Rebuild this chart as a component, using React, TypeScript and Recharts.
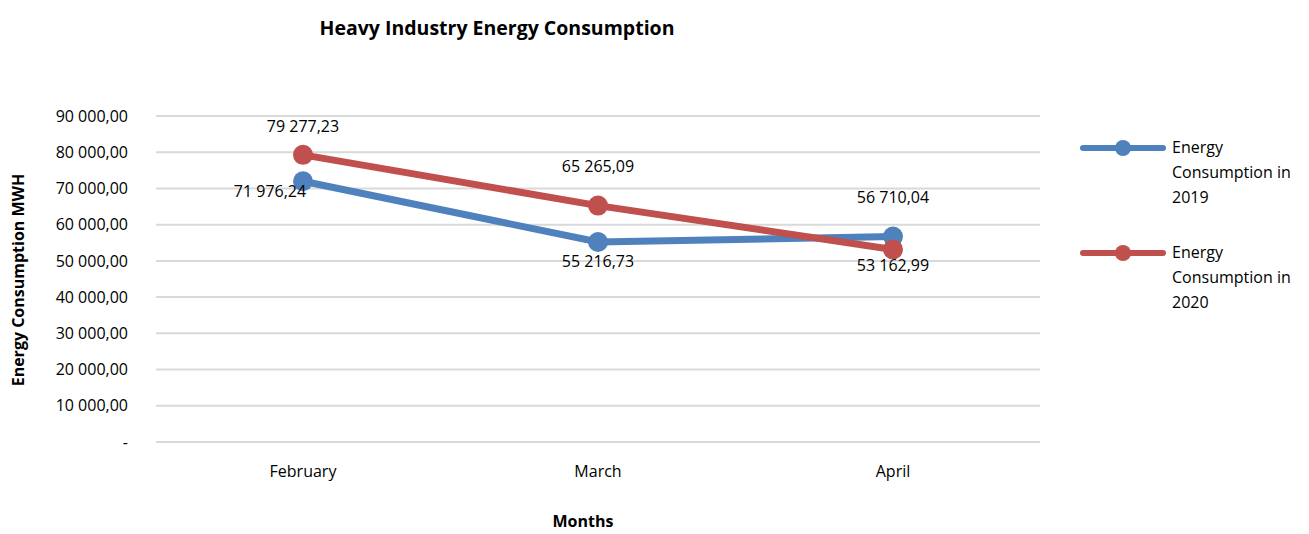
import React from 'react';
import { LineChart, Line, XAxis, YAxis, CartesianGrid, LabelList, Label } from 'recharts';

const months = ['February', 'March', 'April'];
const consumption2019 = [71976.24, 55216.73, 56710.04];
const consumption2020 = [79277.23, 65265.09, 53162.99];
const yTicks = [0, 10000, 20000, 30000, 40000, 50000, 60000, 70000, 80000, 90000];

const BLUE = '#4F81BD';
const RED = '#C0504D';
const FONT = '"Open Sans", Lato, sans-serif';

const data = months.map((m, i) => ({
  month: m,
  y2019: consumption2019[i],
  y2020: consumption2020[i],
}));

// "79 277,23" style
const fmt = (v: number): string => {
  if (!v) return '-';
  const [int, dec] = v.toFixed(2).split('.');
  return int.replace(/\B(?=(\d{3})+(?!\d))/g, ' ') + ',' + dec;
};

// label offsets from each point, like the hand-placed Excel labels
const labelShift: Record<string, { dx: number; dy: number }[]> = {
  y2019: [{ dx: -33, dy: 10 }, { dx: 0, dy: 19 }, { dx: 0, dy: -40 }],
  y2020: [{ dx: 0, dy: -29 }, { dx: 0, dy: -40 }, { dx: 0, dy: 16 }],
};

const makeLabel = (key: string) => (props: any) => {
  const { x, y, value, index } = props;
  const s = labelShift[key][index];
  return (
    <text
      x={x + s.dx}
      y={y + s.dy}
      textAnchor="middle"
      dominantBaseline="central"
      fontSize={16}
      fontFamily={FONT}
      fill="#000"
    >
      {fmt(value)}
    </text>
  );
};

const legendItems = [
  { color: BLUE, lines: ['Energy', 'Consumption in', '2019'] },
  { color: RED, lines: ['Energy', 'Consumption in', '2020'] },
];

const ChartLegend = () => (
  <div style={{ position: 'absolute', left: 1080, top: 137, fontFamily: FONT, fontSize: 16, color: '#000' }}>
    {legendItems.map((it, i) => (
      <div key={i} style={{ display: 'flex', alignItems: 'flex-start', marginBottom: i === 0 ? 32 : 0 }}>
        <svg width={92} height={22} style={{ flexShrink: 0 }}>
          <line x1={3} y1={11} x2={83} y2={11} stroke={it.color} strokeWidth={6} strokeLinecap="round" />
          <circle cx={43} cy={11} r={8} fill={it.color} />
        </svg>
        <div style={{ lineHeight: '25px', marginTop: -2 }}>
          {it.lines.map((l, j) => (
            <div key={j}>{l}</div>
          ))}
        </div>
      </div>
    ))}
  </div>
);

export default function App() {
  return (
    <div style={{ position: 'absolute', left: 0, top: 0, width: 1309, height: 534, background: '#fff' }}>
      <div
        style={{
          position: 'absolute',
          left: 0,
          width: 994,
          top: 14,
          textAlign: 'center',
          fontFamily: FONT,
          fontWeight: 700,
          fontSize: 19.5,
          color: '#000',
        }}
      >
        Heavy Industry Energy Consumption
      </div>
      <ChartLegend />
      <LineChart width={1309} height={534} data={data} margin={{ top: 116, right: 269, bottom: 0, left: 0 }}>
        <CartesianGrid vertical={false} stroke="#d9d9d9" strokeWidth={2} />
        <XAxis
          dataKey="month"
          height={92}
          padding={{ left: 147, right: 147 }}
          axisLine={false}
          tickLine={false}
          tickSize={0}
          tickMargin={24}
          tick={{ fontSize: 16, fontFamily: FONT, fill: '#000' }}
        >
          <Label
            content={() => (
              <text x={583} y={521} textAnchor="middle" dominantBaseline="central" fontSize={16} fontWeight={700} fontFamily={FONT} fill="#000">
                Months
              </text>
            )}
          />
        </XAxis>
        <YAxis
          width={156}
          domain={[0, 90000]}
          ticks={yTicks}
          interval={0}
          axisLine={false}
          tickLine={false}
          tickSize={0}
          tickMargin={28}
          tickFormatter={fmt}
          tick={{ fontSize: 16, fontFamily: FONT, fill: '#000' }}
        >
          <Label
            content={() => (
              <text
                x={18}
                y={280}
                transform="rotate(-90 18 280)"
                textAnchor="middle"
                dominantBaseline="central"
                fontSize={16}
                fontWeight={700}
                fontFamily={FONT}
                fill="#000"
              >
                Energy Consumption MWH
              </text>
            )}
          />
        </YAxis>
        <Line
          dataKey="y2019"
          name="Energy Consumption in 2019"
          stroke={BLUE}
          strokeWidth={7}
          dot={{ r: 10, fill: BLUE, stroke: BLUE, strokeWidth: 0 }}
          activeDot={false}
          isAnimationActive={false}
        >
          <LabelList dataKey="y2019" content={makeLabel('y2019')} />
        </Line>
        <Line
          dataKey="y2020"
          name="Energy Consumption in 2020"
          stroke={RED}
          strokeWidth={7}
          dot={{ r: 10, fill: RED, stroke: RED, strokeWidth: 0 }}
          activeDot={false}
          isAnimationActive={false}
        >
          <LabelList dataKey="y2020" content={makeLabel('y2020')} />
        </Line>
      </LineChart>
    </div>
  );
}
